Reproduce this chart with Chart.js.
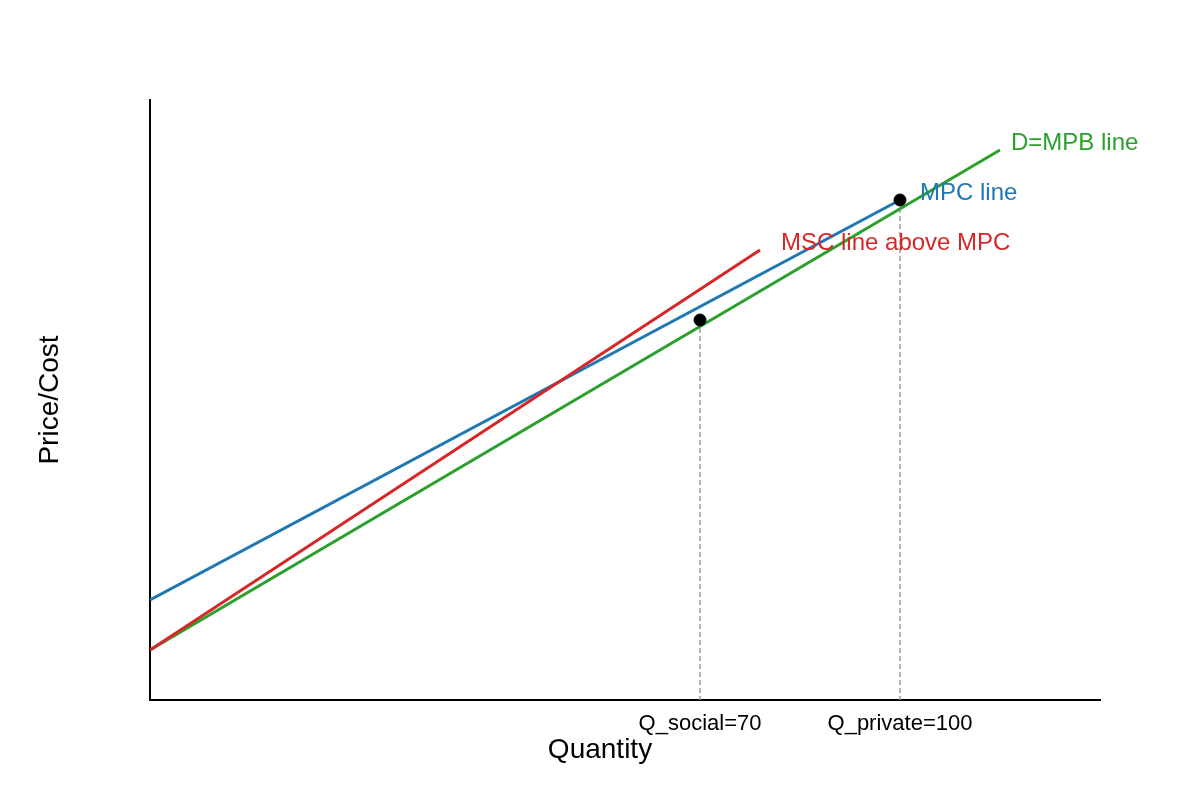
<!DOCTYPE html>
<html>
<head>
<meta charset="utf-8">
<script src="https://cdn.jsdelivr.net/npm/chart.js@4"></script>
<style>
  body { margin: 0; background: #fff; }
  canvas { display: block; }
</style>
</head>
<body>
<canvas id="chart" width="1200" height="800"></canvas>
<script>
// lines (quantity, price)
const mpbX = [-12.5, 115];
const mpbY = [10, 110];
const mpcX = [-12.5, 100];
const mpcY = [20, 100];
const mscX = [-12.5, 79];
const mscY = [10, 90];

// equilibrium points
const pointX = [70, 100];
const pointY = [76, 100];

// x ticks
const tickValues = [70, 100];
const tickLabels = ['Q_social=70', 'Q_private=100'];

const lineNames = ['D=MPB line', 'MPC line', 'MSC line above MPC'];
const lineColors = ['#2ca02c', '#1f77b4', '#d62728'];

const FONT = '"Liberation Sans", Arial, sans-serif';

const toPts = (xs, ys) => xs.map((x, i) => ({ x: x, y: ys[i] }));

// text next to the end of each line + x axis title centred on the figure
const lineLabels = {
    id: 'lineLabels',
    afterDatasetsDraw(chart) {
        const ctx = chart.ctx;
        const xs = chart.scales.x, ys = chart.scales.y;
        const ends = [
            [mpbX[1], mpbY[1], 11],
            [mpcX[1], mpcY[1], 20],
            [mscX[1], mscY[1], 21]
        ];
        ctx.save();
        ctx.font = '24px ' + FONT;
        ctx.textBaseline = 'middle';
        ctx.textAlign = 'left';
        ends.forEach((e, i) => {
            ctx.fillStyle = lineColors[i];
            ctx.fillText(lineNames[i], xs.getPixelForValue(e[0]) + e[2], ys.getPixelForValue(e[1]) - 7);
        });

        ctx.fillStyle = '#000';
        ctx.font = '28px ' + FONT;
        ctx.textAlign = 'center';
        ctx.fillText('Quantity', chart.width / 2, 750);
        ctx.restore();
    }
};

const datasets = [
    { data: toPts(mpbX, mpbY), borderColor: lineColors[0], order: 3 },
    { data: toPts(mpcX, mpcY), borderColor: lineColors[1], order: 4 },
    { data: toPts(mscX, mscY), borderColor: lineColors[2], order: 2 },
].map(d => Object.assign(d, { borderWidth: 3, pointRadius: 0, fill: false, tension: 0 }));

// dashed drop lines from the points to the axis
pointX.forEach((x, i) => {
    datasets.push({
        data: [{ x: x, y: pointY[i] }, { x: x, y: 0 }],
        borderColor: '#999999',
        borderWidth: 1.5,
        borderDash: [5, 3],
        pointRadius: 0,
        fill: false,
        order: 5
    });
});

datasets.push({
    data: toPts(pointX, pointY),
    showLine: false,
    pointRadius: 6,
    pointBackgroundColor: '#000',
    pointBorderColor: '#000',
    order: 1
});

new Chart(document.getElementById('chart'), {
    type: 'line',
    data: { datasets: datasets },
    options: {
        responsive: false,
        animation: false,
        layout: { padding: { top: 100, right: 100, left: 0, bottom: 0 } },
        plugins: { legend: { display: false }, tooltip: { enabled: false } },
        scales: {
            x: {
                type: 'linear',
                min: -12.5,
                max: 130,
                grid: { display: false, drawTicks: false, tickLength: 0 },
                border: { display: true, color: '#000', width: 2 },
                afterBuildTicks: scale => { scale.ticks = tickValues.map(v => ({ value: v })); },
                afterFit: scale => { scale.height = 100; },
                ticks: {
                    color: '#000',
                    padding: 11,
                    autoSkip: false,
                    maxRotation: 0,
                    font: { family: FONT, size: 22 },
                    callback: v => tickLabels[tickValues.indexOf(v)]
                }
            },
            y: {
                type: 'linear',
                min: 0,
                max: 120,
                grid: { display: false, drawTicks: false },
                border: { display: true, color: '#000', width: 2 },
                ticks: { display: false },
                afterFit: scale => { scale.width = 150; },
                title: {
                    display: true,
                    text: 'Price/Cost',
                    color: '#000',
                    padding: { top: 33, bottom: 0 },
                    font: { family: FONT, size: 28 }
                }
            }
        }
    },
    plugins: [lineLabels]
});
</script>
</body>
</html>
